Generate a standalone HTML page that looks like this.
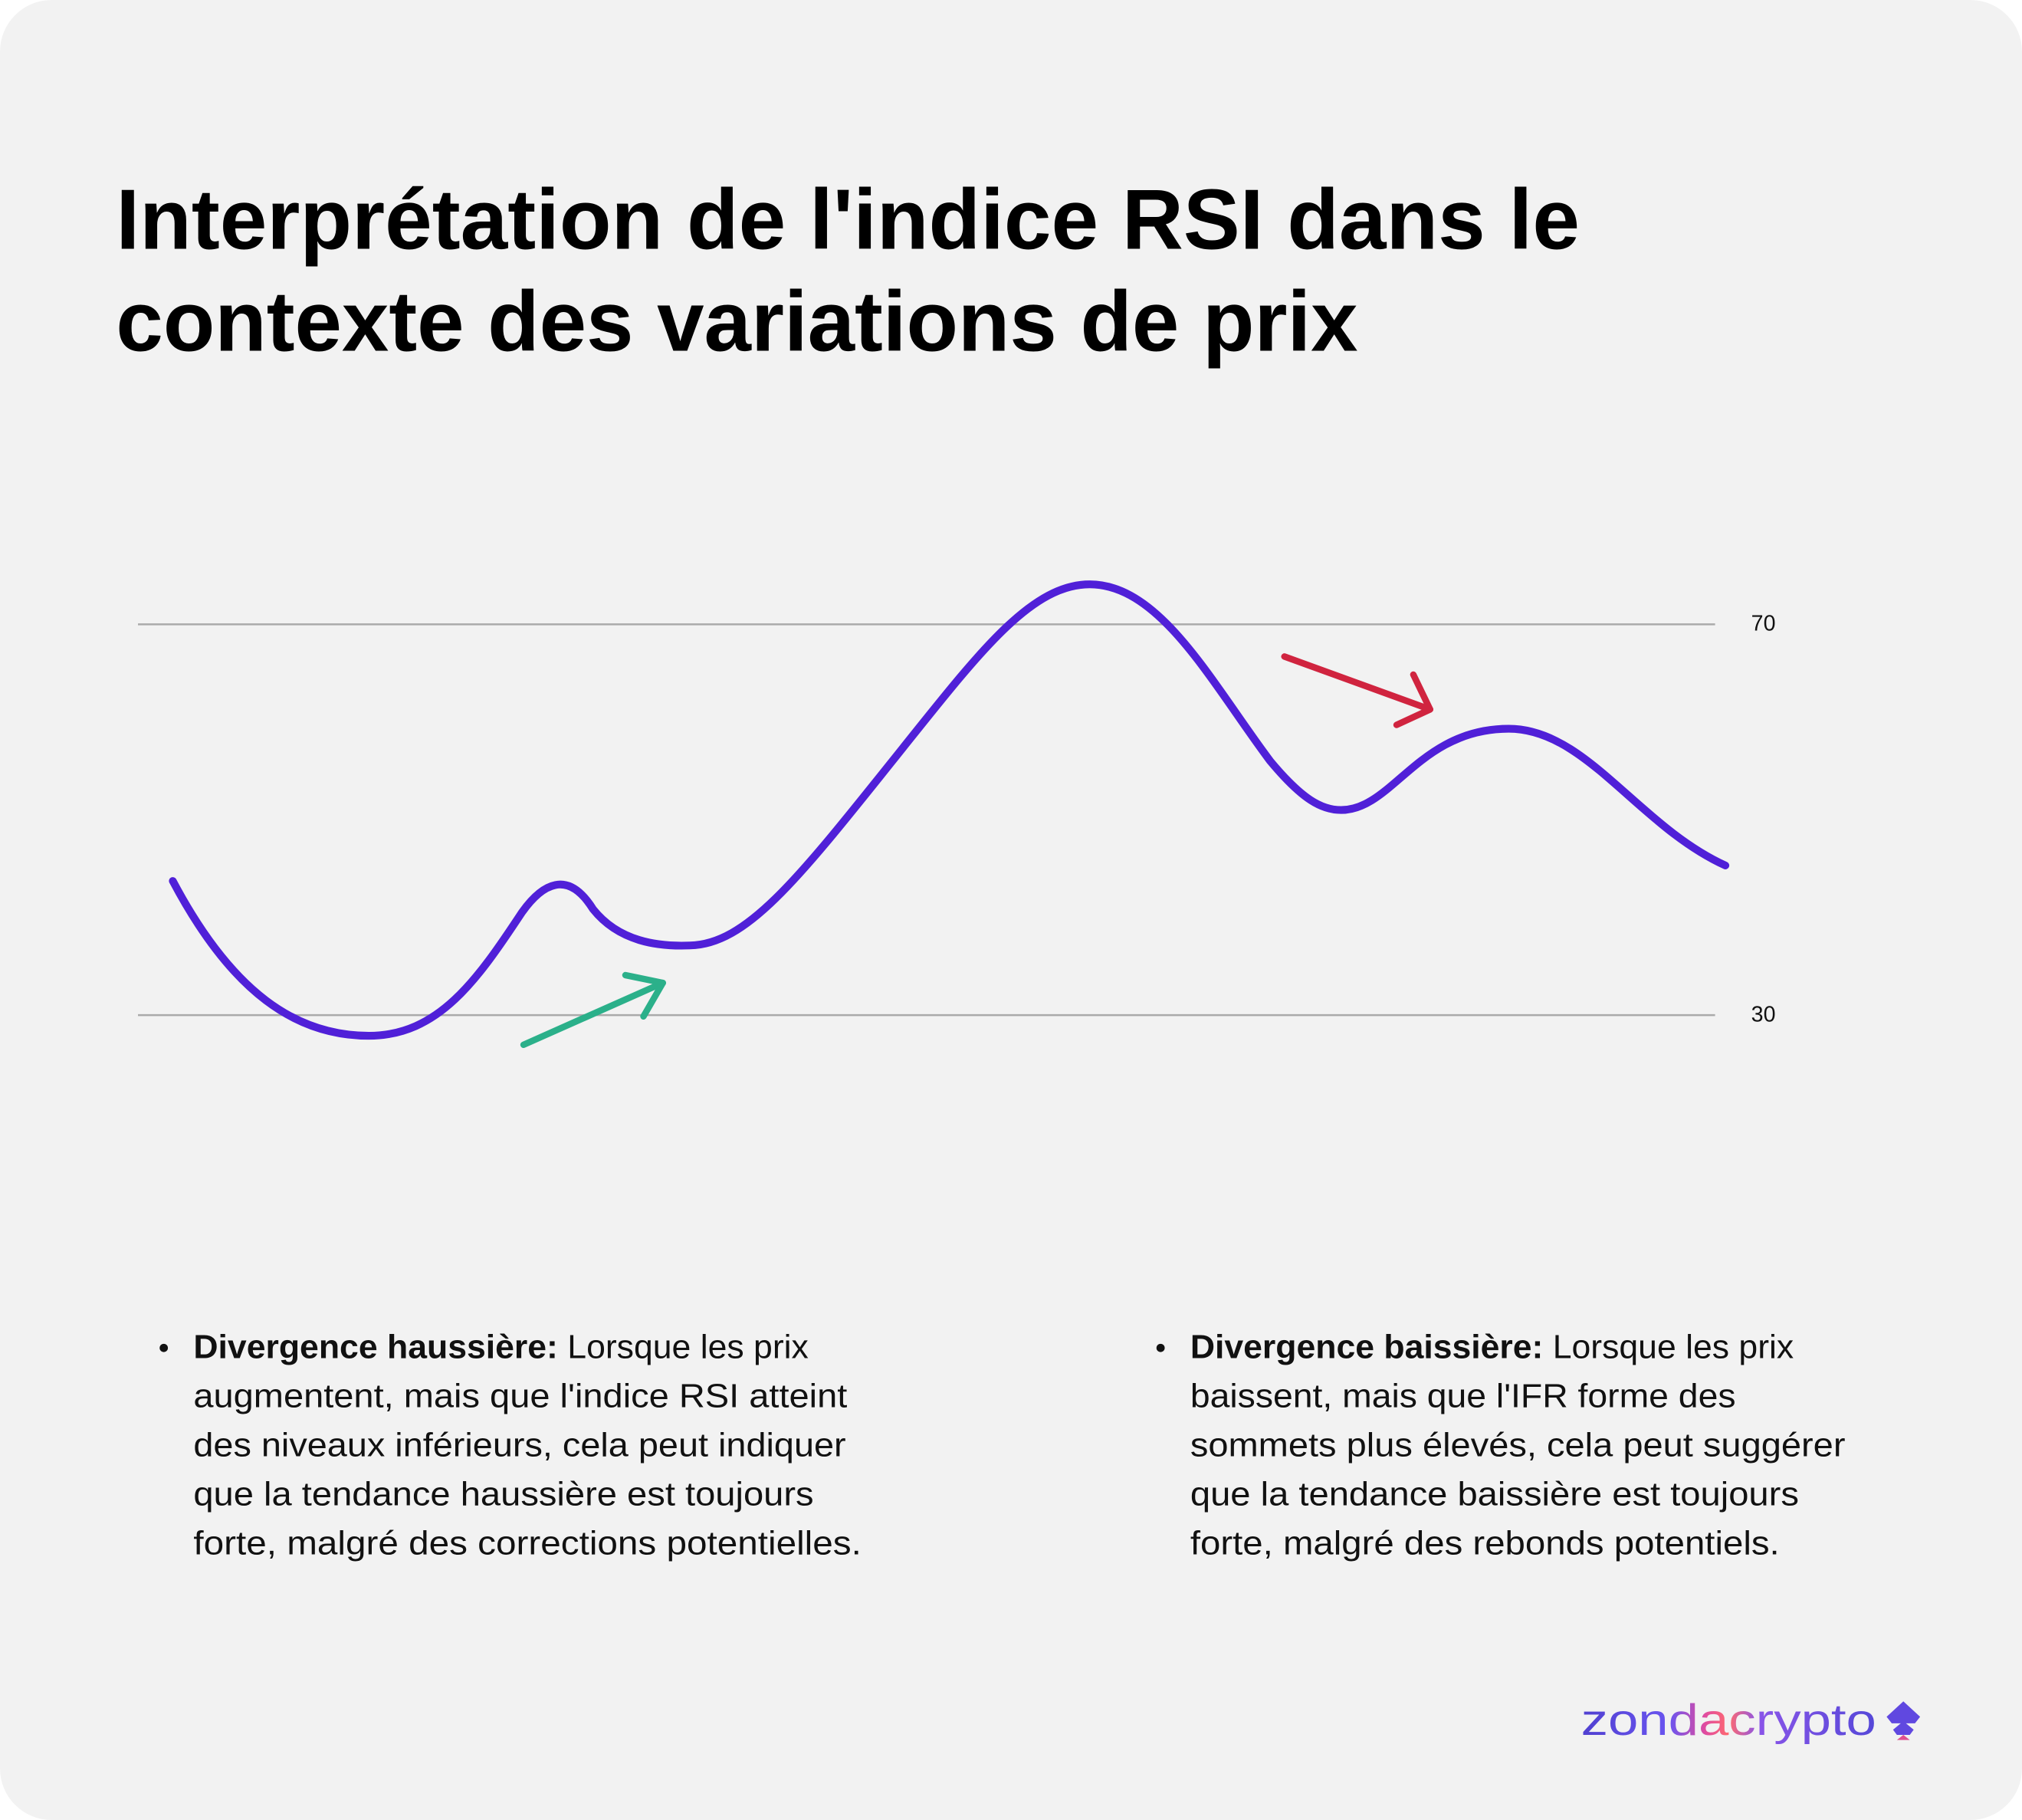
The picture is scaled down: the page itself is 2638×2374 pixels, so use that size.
<!DOCTYPE html>
<html><head><meta charset="utf-8"><style>
html,body{margin:0;padding:0;background:#fff;}
svg{display:block;}
text{font-family:"Liberation Sans",sans-serif;}
</style></head><body>
<svg width="2638" height="2374" viewBox="0 0 1568 1411" preserveAspectRatio="none" xmlns="http://www.w3.org/2000/svg">
<defs>
<linearGradient id="lg" x1="0" x2="1" y1="0" y2="0">
<stop offset="0" stop-color="#5040d0"/><stop offset="0.3" stop-color="#6a55f0"/><stop offset="0.42" stop-color="#e04ca0"/><stop offset="0.5" stop-color="#ff6a70"/><stop offset="0.6" stop-color="#8a55e8"/><stop offset="1" stop-color="#5548d8"/>
</linearGradient>
</defs>
<rect x="0" y="0" width="1568" height="1411" rx="40" ry="40" fill="#f2f2f2"/>
<text x="90" y="193" font-size="66" font-weight="bold" fill="#000" textLength="1135" lengthAdjust="spacingAndGlyphs">Interprétation de l'indice RSI dans le</text>
<text x="90" y="272" font-size="66" font-weight="bold" fill="#000" textLength="963" lengthAdjust="spacingAndGlyphs">contexte des variations de prix</text>
<line x1="107" y1="484" x2="1330" y2="484" stroke="#aaa" stroke-width="1.5"/>
<line x1="107" y1="787" x2="1330" y2="787" stroke="#aaa" stroke-width="1.5"/>
<text x="1358" y="489" font-size="17" fill="#111">70</text>
<text x="1358" y="792" font-size="17" fill="#111">30</text>
<path d="M134,683 C180,770 230,803 286,803 C340,803 370,760 405,707 C420,686 440,673 460,705 C480,730 510,734 535,733 C580,732 620,680 700,580 C760,505 800,453 845,453 C900,453 940,530 985,590 C1010,620 1025,628 1040,628 C1080,628 1100,565 1170,565 C1230,565 1270,640 1338,671" fill="none" stroke="#5020d8" stroke-width="6" stroke-linecap="round"/>
<g stroke="#2bb08a" stroke-width="5" fill="none" stroke-linecap="round" stroke-linejoin="round">
<line x1="406" y1="810" x2="514" y2="762"/><polyline points="485,756 514,762 499,788"/></g>
<g stroke="#d0243f" stroke-width="5" fill="none" stroke-linecap="round" stroke-linejoin="round">
<line x1="996" y1="509" x2="1109" y2="550"/><polyline points="1096,523 1109,550 1083,562"/></g>
<g font-size="26" fill="#111">
<circle cx="127" cy="1045" r="3.2" fill="#111"/>
<text x="150" y="1053" textLength="477" lengthAdjust="spacingAndGlyphs"><tspan font-weight="bold">Divergence haussière:</tspan> Lorsque les prix</text>
<text x="150" y="1091" textLength="507" lengthAdjust="spacingAndGlyphs">augmentent, mais que l'indice RSI atteint</text>
<text x="150" y="1129" textLength="506" lengthAdjust="spacingAndGlyphs">des niveaux inférieurs, cela peut indiquer</text>
<text x="150" y="1167" textLength="481" lengthAdjust="spacingAndGlyphs">que la tendance haussière est toujours</text>
<text x="150" y="1205" textLength="518" lengthAdjust="spacingAndGlyphs">forte, malgré des corrections potentielles.</text>
<circle cx="900" cy="1045" r="3.2" fill="#111"/>
<text x="923" y="1053" textLength="468" lengthAdjust="spacingAndGlyphs"><tspan font-weight="bold">Divergence baissière:</tspan> Lorsque les prix</text>
<text x="923" y="1091" textLength="423" lengthAdjust="spacingAndGlyphs">baissent, mais que l'IFR forme des</text>
<text x="923" y="1129" textLength="508" lengthAdjust="spacingAndGlyphs">sommets plus élevés, cela peut suggérer</text>
<text x="923" y="1167" textLength="472" lengthAdjust="spacingAndGlyphs">que la tendance baissière est toujours</text>
<text x="923" y="1205" textLength="457" lengthAdjust="spacingAndGlyphs">forte, malgré des rebonds potentiels.</text>
</g>
<text x="1226" y="1345" font-size="34" font-family="Liberation Mono, monospace" fill="url(#lg)" textLength="229" lengthAdjust="spacingAndGlyphs">zondacrypto</text>
<path d="M1476,1319 L1489,1331 L1485,1336 L1478,1336 L1484,1341 L1481,1345 L1471,1345 L1468,1341 L1474,1336 L1467,1336 L1463,1331 Z" fill="#6048e0"/>
<path d="M1471,1349 L1476,1345 L1481,1349 Z" fill="#e05090"/>
</svg>
</body></html>
